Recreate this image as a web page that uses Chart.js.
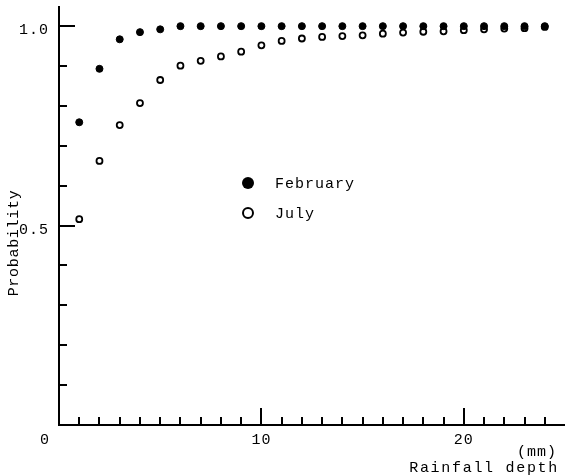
<!DOCTYPE html>
<html>
<head>
<meta charset="utf-8">
<script src="https://cdn.jsdelivr.net/npm/chart.js@4"></script>
<style>
  html, body { margin: 0; padding: 0; background: #fff; }
  canvas { display: block; }
</style>
</head>
<body>
<canvas id="c" width="565" height="475"></canvas>
<script>
// ---- data ----
const depths = [1,2,3,4,5,6,7,8,9,10,11,12,13,14,15,16,17,18,19,20,21,22,23,24];
const february = [0.759,0.893,0.967,0.985,0.992,1.0,1.0,1.0,1.0,1.0,1.0,1.0,1.0,1.0,1.0,1.0,1.0,1.0,1.0,1.0,1.0,1.0,1.0,1.0];
const july = [0.516,0.662,0.752,0.807,0.865,0.901,0.913,0.924,0.936,0.952,0.963,0.969,0.973,0.975,0.977,0.981,0.984,0.986,0.987,0.990,0.992,0.994,0.995,0.998];
const seriesNames = ['February', 'July'];
const xTickValues = [0, 10, 20];
const xTickLabels = ['0', '10', '20'];
const yTickValues = [0.5, 1.0];
const yTickLabels = ['0.5', '1.0'];
const xTitle = 'Rainfall depth';
const xUnit = '(mm)';
const yTitle = 'Probability';

const FONT = '"Liberation Mono", "DejaVu Sans Mono", monospace';
const FS = 15;

const toPts = (ys) => depths.map((x, i) => ({ x: x, y: ys[i] }));

const decorPlugin = {
  id: 'decor',
  afterDraw(chart) {
    const ctx = chart.ctx;
    const xs = chart.scales.x, ys = chart.scales.y;
    const area = chart.chartArea;
    ctx.save();
    ctx.strokeStyle = '#000';
    ctx.lineWidth = 2;
    // inward tick marks on x axis (one per scale tick)
    xs.ticks.forEach(t => {
      if (t.value <= 0 || t.value >= 25) return;
      const px = Math.round(xs.getPixelForValue(t.value));
      const len = (t.value % 10 === 0) ? 17 : 8;
      ctx.beginPath();
      ctx.moveTo(px, area.bottom);
      ctx.lineTo(px, area.bottom - len);
      ctx.stroke();
    });
    // inward tick marks on y axis
    ys.ticks.forEach(t => {
      if (t.value <= 0.001) return;
      const py = Math.round(ys.getPixelForValue(t.value));
      const major = yTickValues.some(v => Math.abs(t.value - v) < 1e-6);
      ctx.beginPath();
      ctx.moveTo(area.left, py);
      ctx.lineTo(area.left + (major ? 16 : 8), py);
      ctx.stroke();
    });
    // tick labels
    ctx.fillStyle = '#000';
    ctx.font = FS + 'px ' + FONT;
    ctx.letterSpacing = '1px';
    ctx.textBaseline = 'middle';
    ctx.textAlign = 'center';
    xTickValues.forEach((v, i) => {
      let px = xs.getPixelForValue(v);
      if (v === 0) px -= 14;
      ctx.fillText(xTickLabels[i], px, area.bottom + 15);
    });
    ctx.textAlign = 'right';
    yTickValues.forEach((v, i) => {
      ctx.fillText(yTickLabels[i], area.left - 10, ys.getPixelForValue(v) + 4);
    });
    // axis titles
    ctx.fillText(xUnit, 557, 452);
    ctx.letterSpacing = '1.7px';
    ctx.fillText(xTitle, 559, 468);
    ctx.letterSpacing = '0.7px';
    ctx.save();
    ctx.translate(14, 243);
    ctx.rotate(-Math.PI / 2);
    ctx.textAlign = 'center';
    ctx.fillText(yTitle, 0, 0);
    ctx.restore();
    // legend
    ctx.letterSpacing = '1px';
    const lx = 248, ly = [183, 213];
    chart.data.datasets.forEach((ds, i) => {
      ctx.beginPath();
      if (i === 0) {
        ctx.arc(lx, ly[i], 6, 0, Math.PI * 2);
        ctx.fillStyle = '#000';
        ctx.fill();
      } else {
        ctx.arc(lx, ly[i], 5, 0, Math.PI * 2);
        ctx.fillStyle = '#fff';
        ctx.fill();
        ctx.lineWidth = 2;
        ctx.strokeStyle = '#000';
        ctx.stroke();
      }
      ctx.fillStyle = '#000';
      ctx.textAlign = 'left';
      ctx.fillText(ds.label, 275, ly[i] + 1);
    });
    ctx.restore();
  }
};

new Chart(document.getElementById('c'), {
  type: 'scatter',
  data: {
    datasets: [
      {
        label: seriesNames[0],
        data: toPts(february),
        pointRadius: 3.5,
        pointBorderWidth: 1,
        pointBackgroundColor: '#000',
        pointBorderColor: '#000',
        showLine: false
      },
      {
        label: seriesNames[1],
        data: toPts(july),
        pointRadius: 3,
        pointBorderWidth: 1.8,
        pointBackgroundColor: '#fff',
        pointBorderColor: '#000',
        showLine: false
      }
    ]
  },
  options: {
    responsive: false,
    animation: false,
    devicePixelRatio: 1,
    layout: { autoPadding: false, padding: { top: 7, right: 0, left: 0, bottom: 0 } },
    plugins: {
      legend: { display: false },
      tooltip: { enabled: false }
    },
    scales: {
      x: {
        type: 'linear',
        min: 0,
        max: 25,
        afterFit(scale) { scale.height = 50; },
        grid: { display: false },
        border: { display: true, color: '#000', width: 2 },
        ticks: { display: false, stepSize: 1, autoSkip: false, includeBounds: false }
      },
      y: {
        type: 'linear',
        min: 0,
        max: 1.048,
        afterFit(scale) { scale.width = 59; },
        grid: { display: false },
        border: { display: true, color: '#000', width: 2 },
        ticks: { display: false, stepSize: 0.1, autoSkip: false, includeBounds: false }
      }
    }
  },
  plugins: [decorPlugin]
});
</script>
</body>
</html>
